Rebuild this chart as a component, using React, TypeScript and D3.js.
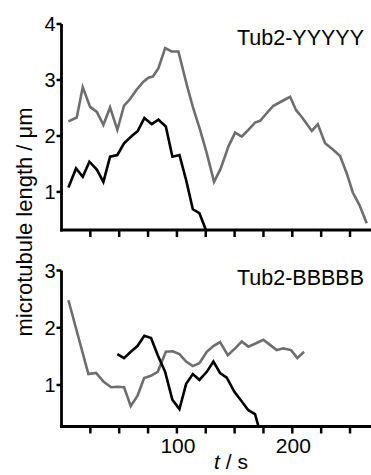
import React from "react";
import * as d3 from "d3";

const topGrayT = [6, 13.2, 18.4, 24.8, 30.6, 36.3, 42.1, 48.4, 54.2, 59.4, 65.2, 71, 75.3, 79.1, 84, 89.8, 95.5, 101.3, 108.6, 113.8, 120.1, 125.9, 132.2, 138, 144.6, 150.4, 156.2, 161.9, 167.7, 172.1, 177.9, 183.6, 190.9, 198.1, 203.3, 208.2, 216.9, 222.1, 228.4, 235.6, 241.4, 247.2, 252.4, 258.1, 264.5];
const topGrayV = [2.26, 2.33, 2.87, 2.52, 2.43, 2.2, 2.51, 2.11, 2.54, 2.66, 2.83, 2.97, 3.04, 3.06, 3.21, 3.57, 3.51, 3.51, 2.91, 2.52, 2.11, 1.69, 1.18, 1.42, 1.81, 2.06, 1.99, 2.11, 2.24, 2.27, 2.41, 2.54, 2.62, 2.7, 2.46, 2.34, 2.09, 2.21, 1.87, 1.75, 1.64, 1.33, 0.99, 0.77, 0.44];

const topBlackT = [6, 12.6, 18.4, 24.2, 30.6, 36.3, 42.1, 48.4, 54.2, 60.9, 66.1, 71.8, 78.2, 84, 90.4, 96.1, 102.2, 108, 113.8, 119.5, 125];
const topBlackV = [1.08, 1.42, 1.27, 1.54, 1.4, 1.18, 1.63, 1.66, 1.87, 2.0, 2.09, 2.32, 2.21, 2.29, 2.17, 1.63, 1.66, 1.21, 0.69, 0.62, 0.33];

const botGrayT = [6, 23.3, 30, 36.3, 43, 48.4, 54.2, 60, 65.8, 71.6, 77.4, 83.4, 90.4, 96.4, 102.2, 108, 113.8, 119.5, 125.9, 131.6, 137.4, 144.1, 150.4, 156.2, 161.9, 167.7, 174.9, 180.1, 186.5, 192.3, 198.9, 204.4, 210.2];
const botGrayV = [2.48, 1.19, 1.21, 1.06, 0.96, 0.97, 0.96, 0.63, 0.81, 1.12, 1.16, 1.23, 1.58, 1.59, 1.54, 1.41, 1.33, 1.38, 1.58, 1.68, 1.75, 1.52, 1.64, 1.76, 1.67, 1.72, 1.79, 1.71, 1.61, 1.64, 1.61, 1.47, 1.58];

const botBlackT = [48.4, 54.2, 60, 65.8, 71.8, 77.6, 83.4, 89.8, 96.1, 102.2, 108, 113.8, 119.5, 125.9, 131.6, 137.4, 143.2, 149.8, 155.6, 161.9, 167.7, 170.6];
const botBlackV = [1.54, 1.47, 1.58, 1.68, 1.86, 1.82, 1.52, 1.23, 0.74, 0.58, 1.02, 1.19, 1.09, 1.23, 1.41, 1.21, 1.13, 0.88, 0.73, 0.56, 0.49, 0.28];

const xTicks = [25, 50, 75, 100, 125, 150, 175, 200, 225, 250];
const xTickLabels = [100, 200];
const topYTicks = [1, 2, 3, 4];
const botYTicks = [1, 2, 3];
const topTitle = "Tub2-YYYYY";
const botTitle = "Tub2-BBBBB";

const FONT = "'Liberation Sans', Arial, Helvetica, sans-serif";
const GRAY = "#6e6e6e";

function zip(t: number[], v: number[]): [number, number][] {
  return t.map((d, i) => [d, v[i]]);
}

export default function App() {
  const W = 371;
  const H = 475;
  const x = d3.scaleLinear().domain([0, 270]).range([61.5, 373.1]);
  const yTop = d3.scaleLinear().domain([0.32, 4]).range([230, 24]);
  const yBot = d3.scaleLinear().domain([0.275, 3]).range([426.5, 270.5]);

  const lineTop = d3.line<[number, number]>().x((d) => x(d[0])).y((d) => yTop(d[1]));
  const lineBot = d3.line<[number, number]>().x((d) => x(d[0])).y((d) => yBot(d[1]));

  const axisX0 = x(0);

  const panel = (
    y: d3.ScaleLinear<number, number>,
    yTicks: number[],
    title: string,
    titleY: number,
    showLabels: boolean
  ) => {
    const [y0, y1] = y.range();
    return (
      <g>
        <line x1={axisX0} x2={axisX0} y1={y1} y2={y0 + 1.5} stroke="#000" strokeWidth={2.8} />
        <line x1={axisX0 - 1.4} x2={W + 2} y1={y0} y2={y0} stroke="#000" strokeWidth={2.8} />
        {yTicks.map((t) => (
          <g key={"y" + t}>
            <line x1={axisX0 - 5} x2={axisX0} y1={y(t)} y2={y(t)} stroke="#000" strokeWidth={2.5} />
            <text x={axisX0 - 6} y={y(t)} dy="0.36em" textAnchor="end" fontSize={20} fontFamily={FONT}>
              {t}
            </text>
          </g>
        ))}
        {xTicks.map((t) => (
          <line key={"x" + t} x1={x(t)} x2={x(t)} y1={y0} y2={y0 + 7} stroke="#000" strokeWidth={2.5} />
        ))}
        {showLabels &&
          xTickLabels.map((t) => (
            <text key={"xl" + t} x={x(t) + 1} y={y0 + 26.5} textAnchor="middle" fontSize={21} fontFamily={FONT}>
              {t}
            </text>
          ))}
        <text x={364} y={titleY} textAnchor="end" fontSize={21.5} fontFamily={FONT}>
          {title}
        </text>
      </g>
    );
  };

  return (
    <svg
      width={W}
      height={H}
      style={{ position: "absolute", left: 0, top: 0, background: "#fff" }}
    >
      {panel(yTop, topYTicks, topTitle, 45, false)}
      {panel(yBot, botYTicks, botTitle, 285, true)}
      <path d={lineTop(zip(topGrayT, topGrayV)) || ""} fill="none" stroke={GRAY} strokeWidth={2.6} />
      <path d={lineTop(zip(topBlackT, topBlackV)) || ""} fill="none" stroke="#000" strokeWidth={2.6} />
      <path d={lineBot(zip(botGrayT, botGrayV)) || ""} fill="none" stroke={GRAY} strokeWidth={2.6} />
      <path d={lineBot(zip(botBlackT, botBlackV)) || ""} fill="none" stroke="#000" strokeWidth={2.6} />
      <text
        transform="translate(32,222) rotate(-90)"
        textAnchor="middle"
        fontSize={22}
        fontFamily={FONT}
      >
        microtubule length / μm
      </text>
      <text x={231} y={469} textAnchor="middle" fontSize={21} fontFamily={FONT}>
        <tspan fontStyle="italic">t</tspan> / s
      </text>
    </svg>
  );
}
